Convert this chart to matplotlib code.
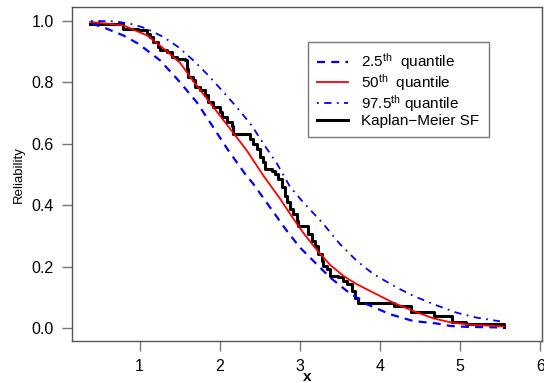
import matplotlib
matplotlib.use("Agg")
import matplotlib.pyplot as plt
import numpy as np

plt.rcParams['font.family'] = ['Liberation Sans', 'DejaVu Sans']
plt.rcParams['mathtext.default'] = 'regular'

# Kaplan-Meier estimate (step function, value after each time)
km_t = [0.383, 0.798, 0.985, 1.090, 1.131, 1.172, 1.234, 1.256, 1.339, 1.401,
        1.464, 1.567, 1.589, 1.608, 1.671, 1.692, 1.754, 1.817, 1.858, 1.920,
        2.004, 2.025, 2.087, 2.150, 2.170, 2.378, 2.419, 2.461, 2.502, 2.544,
        2.565, 2.648, 2.690, 2.731, 2.773, 2.814, 2.835, 2.876, 2.918, 2.960,
        2.980, 3.105, 3.147, 3.188, 3.229, 3.272, 3.292, 3.334, 3.375, 3.479,
        3.541, 3.584, 3.646, 3.687, 3.728, 4.170, 4.390, 4.670, 4.900, 5.070,
        5.550]
km_s = [0.991, 0.975, 0.970, 0.959, 0.948, 0.932, 0.915, 0.905, 0.899, 0.883,
        0.877, 0.872, 0.845, 0.818, 0.807, 0.785, 0.774, 0.758, 0.736, 0.720,
        0.703, 0.687, 0.671, 0.660, 0.633, 0.617, 0.600, 0.584, 0.557, 0.540,
        0.519, 0.513, 0.502, 0.486, 0.459, 0.432, 0.410, 0.389, 0.372, 0.350,
        0.334, 0.307, 0.285, 0.269, 0.242, 0.220, 0.204, 0.193, 0.171, 0.166,
        0.155, 0.144, 0.122, 0.100, 0.084, 0.073, 0.052, 0.041, 0.022, 0.014,
        0.006]

# 50th quantile
q50_x = [0.383, 0.794, 1.094, 1.256, 1.505, 1.667, 2.337, 2.544, 2.752, 2.918,
         3.042, 3.209, 3.375, 3.541, 3.708, 3.874, 4.161, 4.410, 4.660, 4.872,
         5.084, 5.545]
q50_y = [0.997, 0.986, 0.953, 0.920, 0.864, 0.806, 0.579, 0.497, 0.422, 0.357,
         0.311, 0.256, 0.207, 0.171, 0.144, 0.122, 0.084, 0.057, 0.033, 0.020,
         0.013, 0.006]

# 2.5th quantile
q025_x = [0.404, 0.591, 0.798, 0.985, 1.256, 1.484, 1.713, 1.920, 2.107, 2.315,
          2.419, 2.627, 2.835, 3.001, 3.209, 3.375, 3.584, 3.833, 4.123, 4.414,
          4.706, 4.872, 5.080, 5.495]
q025_y = [0.992, 0.975, 0.953, 0.926, 0.872, 0.807, 0.736, 0.654, 0.579, 0.503,
          0.470, 0.394, 0.318, 0.263, 0.209, 0.166, 0.122, 0.079, 0.046, 0.024,
          0.016, 0.008, 0.005, 0.003]

# 97.5th quantile
q975_x = [0.395, 0.695, 0.923, 1.090, 1.297, 1.484, 1.671, 1.858, 2.045, 2.212,
          2.399, 2.544, 2.714, 2.876, 3.042, 3.292, 3.500, 3.708, 3.915, 4.207,
          4.414, 4.663, 4.955, 5.204, 5.495]
q975_y = [1.000, 0.999, 0.989, 0.975, 0.948, 0.915, 0.872, 0.823, 0.769, 0.720,
          0.660, 0.601, 0.536, 0.461, 0.410, 0.340, 0.274, 0.220, 0.177, 0.133,
          0.106, 0.079, 0.051, 0.035, 0.023]

fig = plt.figure(figsize=(5.44, 3.83), dpi=100)
ax = fig.add_axes([0.1324, 0.1105, 0.864, 0.870])

ax.step(km_t, km_s, where='post', color='black', lw=2.2, label='Kaplan\u2212Meier SF', zorder=2)
ax.plot(q025_x, q025_y, color='#0000ff', lw=1.6, dashes=(3.6, 2.8), label='2.5$^{th}$  quantile', zorder=3)
ax.plot(q50_x, q50_y, color='#ff0000', lw=1.3, label='50$^{th}$  quantile', zorder=3)
ax.plot(q975_x, q975_y, color='#0000ff', lw=1.3, dashes=(1, 3, 4, 3), label='97.5$^{th}$ quantile', zorder=3)

ax.set_xlim(0.158, 6.02)
ax.set_ylim(-0.04, 1.044)
ax.set_xticks([1, 2, 3, 4, 5, 6])
ax.set_yticks([0.0, 0.2, 0.4, 0.6, 0.8, 1.0])
ax.set_yticklabels(['0.0', '0.2', '0.4', '0.6', '0.8', '1.0'])
ax.tick_params(direction='out', length=7, width=1, color='#777777', labelsize=11.5, pad=6)
for sp in ax.spines.values():
    sp.set_color('#555555')
    sp.set_linewidth(1)

ax.set_xlabel('x', fontsize=11, fontweight='bold', labelpad=-3)
ax.set_ylabel('Reliability', fontsize=9.5, labelpad=5)

handles, labels = ax.get_legend_handles_labels()
order = [1, 2, 3, 0]
leg = ax.legend([handles[i] for i in order], [labels[i] for i in order],
                loc='upper left', bbox_to_anchor=(0.502, 0.896), fontsize=11,
                frameon=True, fancybox=False, edgecolor='#555555',
                handlelength=2.0, handletextpad=0.9, labelspacing=0.0,
                borderpad=0.6, borderaxespad=0)
leg.get_frame().set_linewidth(1)

fig.savefig('out.png', dpi=100)
